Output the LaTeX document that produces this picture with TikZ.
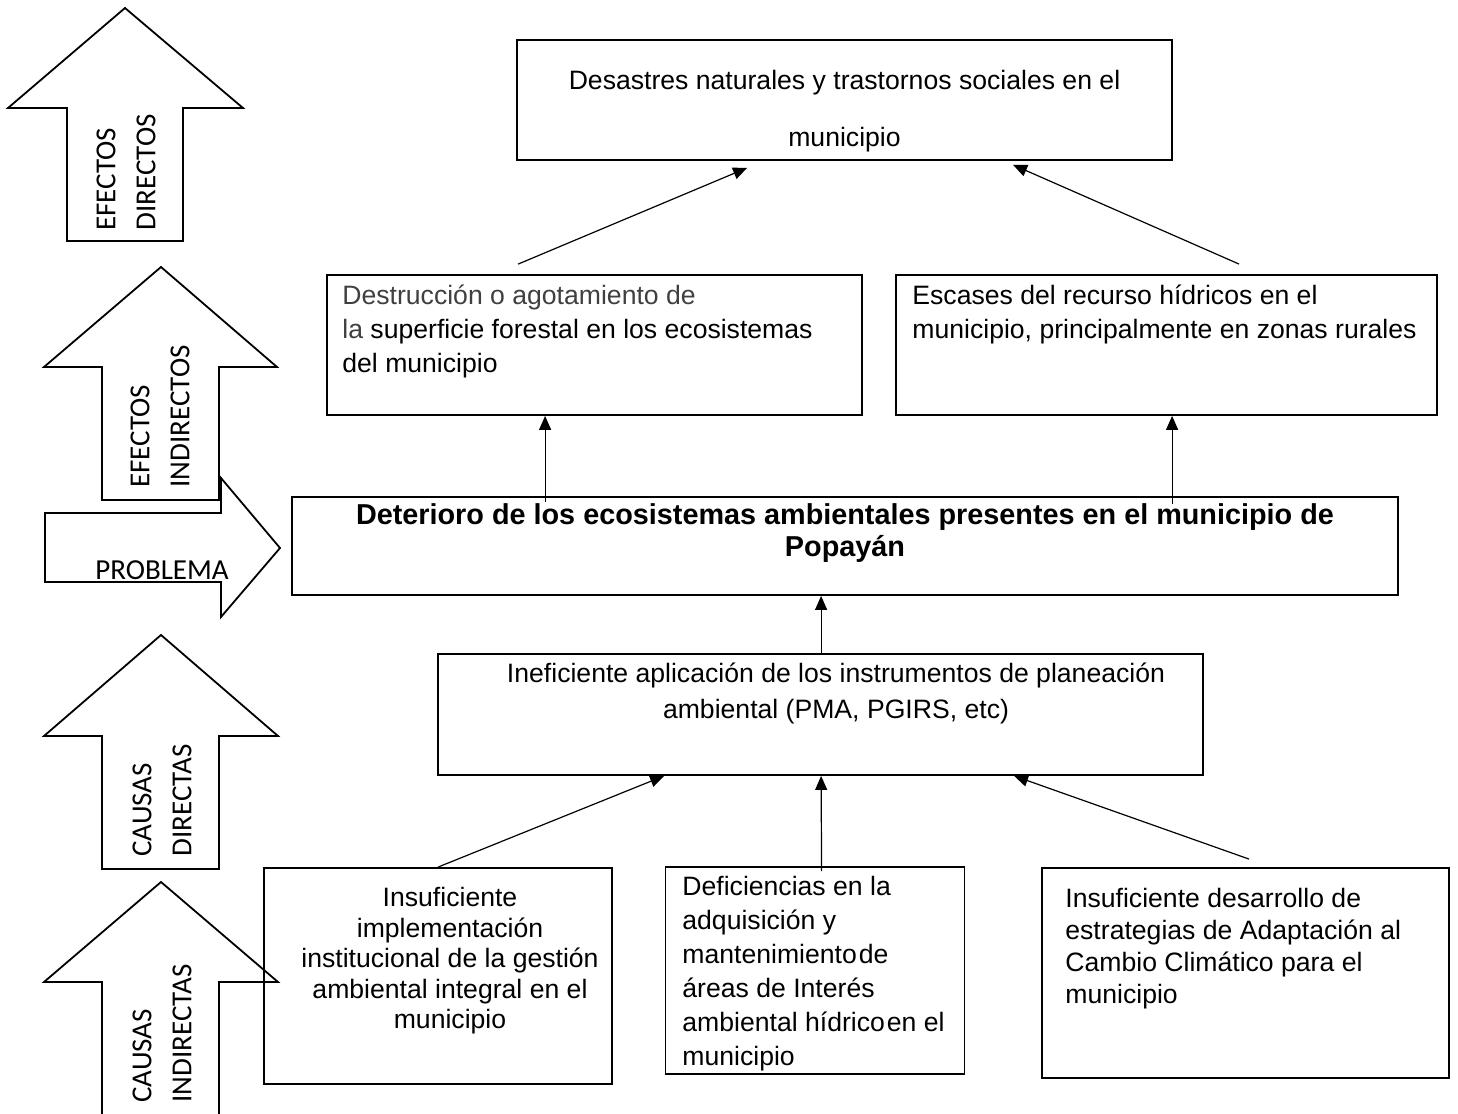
\documentclass[tikz,border=0pt]{standalone}
\usepackage{fontspec}
\setmainfont{Liberation Sans}
\newfontfamily\calibri{Carlito}
\usetikzlibrary{calc,arrows.meta}

\tikzset{
  box/.style={draw,line width=.9pt,inner sep=0pt},
  txt/.style={inner sep=0pt},
  lbl/.style={inner sep=0pt,align=left,font=\calibri\fontsize{14.5}{20}\selectfont},
  bigarrow/.style={draw,line width=.9pt,line join=miter},
  conn/.style={line width=.6pt,-{Triangle[length=7pt,width=6pt]}}
}

\begin{document}
\begin{tikzpicture}[x=0.5pt,y=-0.5pt]
\useasboundingbox (0,0) rectangle (1458,1114);
% block arrows on the left
\draw[bigarrow] (125,8) -- (243,108) -- (183,108) -- (183,241) -- (67,241) -- (67,108) -- (8,108) -- cycle;
\draw[bigarrow] (161,267) -- (277,367) -- (219,367) -- (219,500) -- (102,500) -- (102,367) -- (44,367) -- cycle;
\draw[bigarrow] (45,513) -- (221,513) -- (221,478) -- (280,548) -- (221,617) -- (221,582) -- (45,582) -- cycle;
\draw[bigarrow] (161,635) -- (278,736) -- (219,736) -- (219,869) -- (102,869) -- (102,736) -- (44,736) -- cycle;
\draw[bigarrow] (219,1125) -- (219,982) -- (278,982) -- (161,882) -- (44,982) -- (102,982) -- (102,1125);
\node[lbl,rotate=90,anchor=west] (efdir) at (126,231) {EFECTOS\\DIRECTOS};
\node[lbl,rotate=90,anchor=west] (efind) at (160,488) {EFECTOS\\INDIRECTOS};
\node[lbl] (problema) at (162,570) {PROBLEMA};
\node[lbl,rotate=90,anchor=west] (caudir) at (162,857) {CAUSAS\\DIRECTAS};
\node[lbl,rotate=90,anchor=west] (cauind) at (162,1103) {CAUSAS\\INDIRECTAS};

% boxes
\node[box,minimum width=327.5pt,minimum height=60pt] (desastres) at (844.5,100) {};
\node[box,minimum width=267.5pt,minimum height=70pt] (destruccion) at (594.5,345) {};
\node[box,minimum width=270.5pt,minimum height=70pt] (escases) at (1166.5,345) {};
\node[box,minimum width=553pt,minimum height=49pt] (deterioro) at (845,546) {};
\node[box,minimum width=382.5pt,minimum height=60.5pt] (ineficiente) at (820.5,714.5) {};
\node[box,minimum width=174pt,minimum height=108pt] (insuficiente) at (438,976) {};
\node[box,minimum width=149.5pt,minimum height=103.5pt] (deficiencias) at (815,970.5) {};
\node[box,minimum width=203.5pt,minimum height=105pt] (desarrollo) at (1245.5,973) {};

% texts
\node[txt,align=center,font=\fontsize{13.3}{28.5}\selectfont] (desastresT) at (844.5,111)
  {Desastres naturales y trastornos sociales en el\\municipio};
\node[txt,align=left,anchor=west,font=\fontsize{13.3}{17}\selectfont] (destruccionT) at (342,331)
  {\textcolor{black!75}{Destrucci\'on o agotamiento de}\\\textcolor{black!75}{la} superficie forestal en los ecosistemas\\del municipio};
\node[txt,align=left,anchor=west,font=\fontsize{13.3}{17}\selectfont] (escasesT) at (912,314)
  {Escases del recurso h\'idricos en el\\municipio, principalmente en zonas rurales};
\node[txt,align=center,font=\bfseries\fontsize{14.4}{16}\selectfont] (deterioroT) at (845,533)
  {Deterioro de los ecosistemas ambientales presentes en el municipio de\\Popay\'an};
\node[txt,align=center,font=\fontsize{13.3}{18}\selectfont] (ineficienteT) at (836,693)
  {Ineficiente aplicaci\'on de los instrumentos de planeaci\'on\\ambiental (PMA, PGIRS, etc)};
\node[txt,align=center,font=\fontsize{13.3}{15.25}\selectfont] (insuficienteT) at (450,961)
  {Insuficiente\\implementaci\'on\\institucional de la gesti\'on\\ambiental integral en el\\municipio};
\node[txt,align=left,anchor=west,font=\fontsize{13.3}{17}\selectfont] (deficienciasT) at (682,974)
  {Deficiencias en la\\adquisici\'on y\\mantenimiento\hspace{1pt}de\\\'areas de Inter\'es\\ambiental h\'idrico\hspace{1pt}en el\\municipio};
\node[txt,align=left,anchor=west,font=\fontsize{13.3}{16}\selectfont] (desarrolloT) at (1065,949)
  {Insuficiente desarrollo de\\estrategias de Adaptaci\'on al\\Cambio Clim\'atico para el\\municipio};

% connectors
\draw[conn] ($(destruccion.north west)+(192,-10)$) -- ($(desastres.south west)+(231,7)$);
\draw[conn] ($(escases.north west)+(344,-10)$) -- ($(desastres.south west)+(497,4)$);
\draw[conn] ($(deterioro.north west)+(254,6)$) -- ($(destruccion.south west)+(219,0)$);
\draw[conn] ($(deterioro.north west)+(881,8)$) -- ($(escases.south west)+(277,0)$);
\draw[conn] ($(ineficiente.north west)+(384,0)$) -- ($(deterioro.south west)+(530,0)$);
\draw[conn] (insuficiente.north) -- ($(ineficiente.south west)+(227,0)$);
\draw[conn] ($(deficiencias.north west)+(157,5)$) -- ($(ineficiente.south west)+(384,0)$);
\draw[conn] ($(desarrollo.north west)+(208,-8)$) -- ($(ineficiente.south west)+(577,0)$);
\end{tikzpicture}
\end{document}
